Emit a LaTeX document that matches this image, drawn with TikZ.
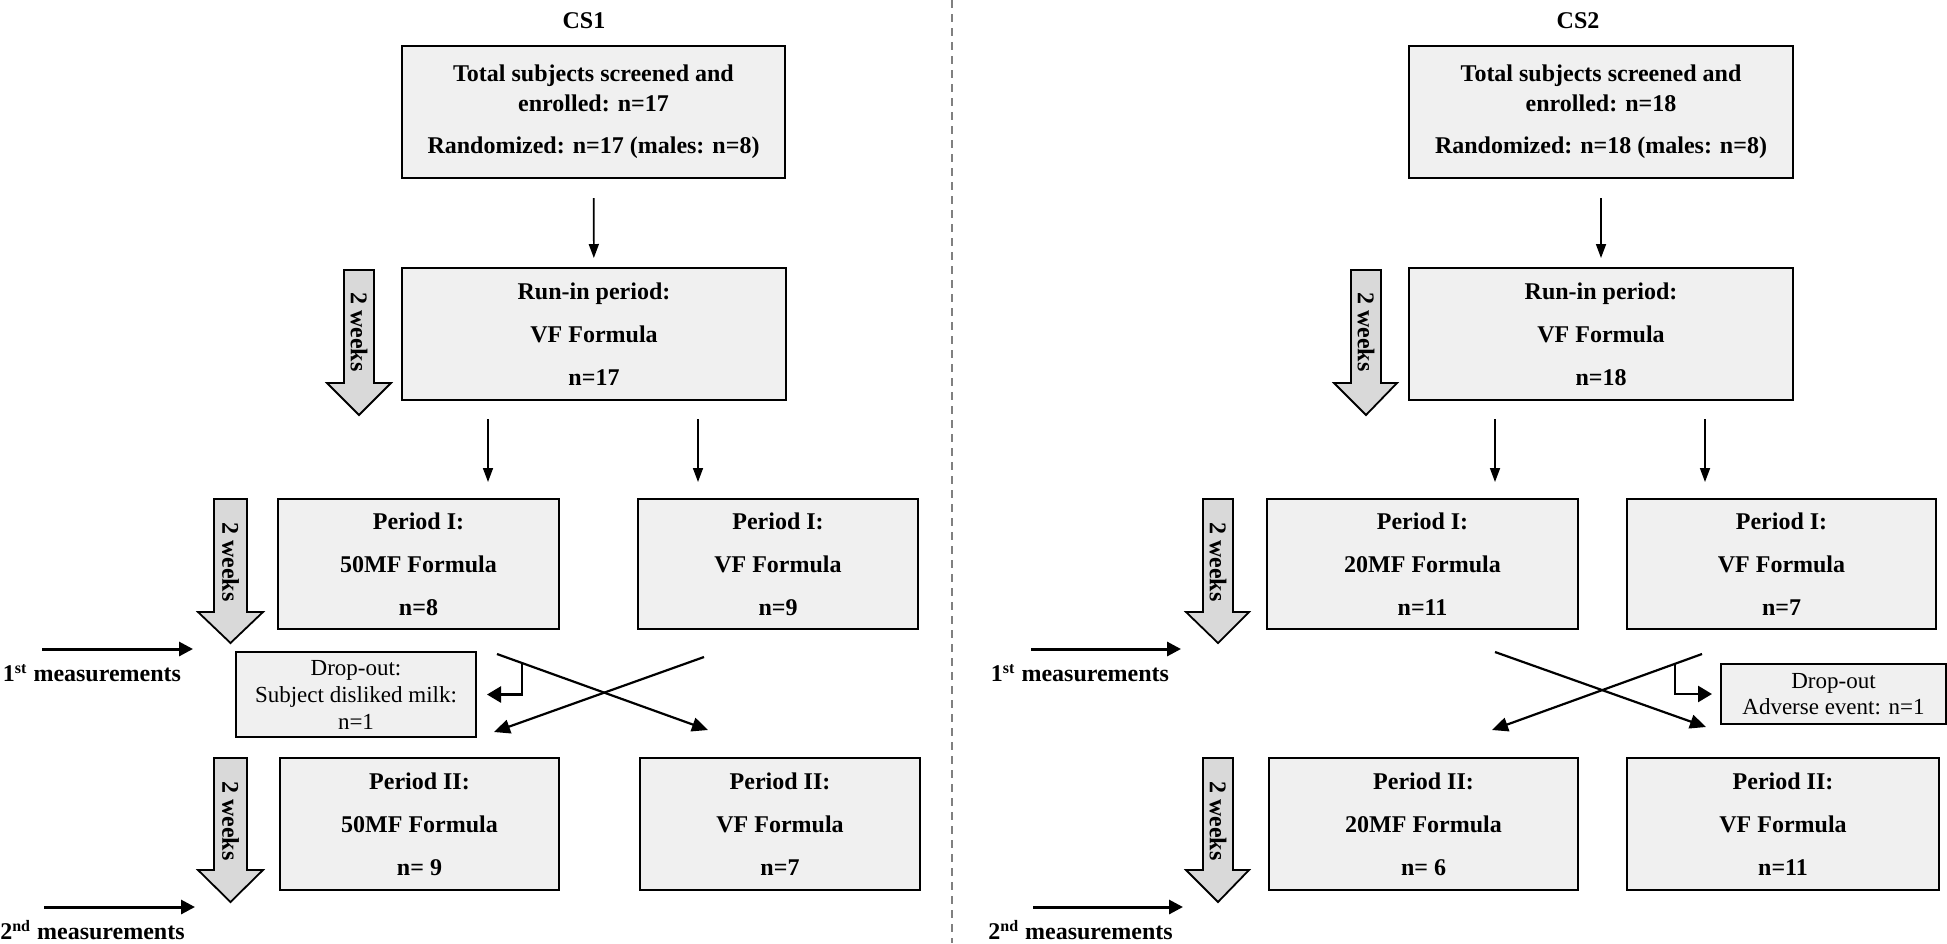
\documentclass[tikz,border=0pt]{standalone}
\usepackage{fontspec}
\setmainfont{Liberation Serif}
\usetikzlibrary{arrows.meta,calc}
\definecolor{boxgray}{HTML}{F0F0F0}
\definecolor{wkgray}{HTML}{D9D9D9}
\tikzset{
  box/.style={draw,line width=1pt,fill=boxgray,align=center,inner sep=0pt,
    font=\fontsize{12}{15}\selectfont\bfseries},
  dropbox/.style={draw,line width=1pt,fill=boxgray,align=center,inner sep=0pt,
    font=\fontsize{11.5}{13.5}\selectfont},
  wk/.style={draw,line width=0.9pt,fill=wkgray},
  wktext/.style={rotate=-90,inner sep=0pt,font=\fontsize{12}{14}\selectfont\bfseries},
  lbl/.style={inner sep=0pt,font=\fontsize{12}{14}\selectfont\bfseries},
  arr/.style={line width=0.8pt,-{Triangle[length=7pt,width=5pt]}},
  crossarr/.style={line width=1.1pt,-{Triangle[length=8pt,width=7pt]}},
  elbow/.style={line width=1.3pt,-{Triangle[length=7pt,width=8pt]}},
  measarr/.style={line width=1.5pt,-{Triangle[length=7pt,width=7pt]}}
}
\begin{document}
\begin{tikzpicture}[x=0.5pt,y=-0.5pt]
\useasboundingbox (0,0) rectangle (1947,943);
\draw[gray,line width=0.6pt,dash pattern=on 4pt off 3pt] (952,0) -- (952,943);

% CS1
\node[lbl] (t1) at (584,21) {CS1};
\node[box,minimum width=191.5pt,minimum height=66pt] (cs1top) at (593.5,112)
  {Total subjects screened and\\enrolled: n=17\\[6pt]Randomized: n=17 (males: n=8)};
\node[box,minimum width=192pt,minimum height=66pt] (cs1run) at (594,334)
  {Run-in period:\\[6.5pt]VF Formula\\[6.5pt]n=17};
\node[box,minimum width=140.5pt,minimum height=65pt] (cs1pIa) at (418.5,564)
  {Period I:\\[6.5pt]50MF Formula\\[6.5pt]n=8};
\node[box,minimum width=140pt,minimum height=65pt] (cs1pIb) at (778,564)
  {Period I:\\[6.5pt]VF Formula\\[6.5pt]n=9};
\node[dropbox,minimum width=120pt,minimum height=42.5pt] (cs1drop) at (356,694.5)
  {Drop-out:\\Subject disliked milk:\\n=1};
\node[box,minimum width=139.5pt,minimum height=66pt] (cs1pIIa) at (419.5,824)
  {Period II:\\[6.5pt]50MF Formula\\[6.5pt]n= 9};
\node[box,minimum width=140pt,minimum height=66pt] (cs1pIIb) at (780,824)
  {Period II:\\[6.5pt]VF Formula\\[6.5pt]n=7};

\draw[arr,shorten <=9.5pt,shorten >=4.5pt] (cs1top) -- (cs1run);
\draw[arr] ([xshift=-53pt,yshift=-9pt]cs1run.south) -- ++(0,63);
\draw[arr] ([xshift=52pt,yshift=-9pt]cs1run.south) -- ++(0,63);

\coordinate (c1a) at (497,654);
\coordinate (c1b) at (708,730);
\coordinate (c1c) at (704,657);
\coordinate (c1d) at (494,732);
\draw[crossarr] (c1a) -- (c1b);
\draw[crossarr] (c1c) -- (c1d);
\coordinate (e1) at ($(c1a)!0.118!(c1b)$);
\draw[elbow,shorten >=5pt] (e1) |- (cs1drop.east);

\draw[wk] (344,270) -- (374,270) -- (374,383) -- (391,383) -- (359,415) -- (327,383) -- (344,383) -- cycle;
\node[wktext] (w1) at (359,332) {2 weeks};
\draw[wk] (214,499) -- (247,499) -- (247,612) -- (263,612) -- (230.5,643) -- (198,612) -- (214,612) -- cycle;
\node[wktext] (w2) at (230.5,562) {2 weeks};
\draw[wk] (214,758) -- (247,758) -- (247,870) -- (263,870) -- (230.5,902) -- (198,870) -- (214,870) -- cycle;
\node[wktext] (w3) at (230.5,821) {2 weeks};

\coordinate (m1a) at (42,649);
\coordinate (m1b) at (193,649);
\draw[measarr] (m1a) -- (m1b);
\node[lbl] (m1) at (92,673) {1\textsuperscript{st} measurements};
\coordinate (m2a) at (44,907);
\coordinate (m2b) at (195,907);
\draw[measarr] (m2a) -- (m2b);
\node[lbl] (m2) at (92.5,930) {2\textsuperscript{nd} measurements};

% CS2
\node[lbl] (t2) at (1578,21) {CS2};
\node[box,minimum width=192pt,minimum height=66pt] (cs2top) at (1601,112)
  {Total subjects screened and\\enrolled: n=18\\[6pt]Randomized: n=18 (males: n=8)};
\node[box,minimum width=192pt,minimum height=66pt] (cs2run) at (1601,334)
  {Run-in period:\\[6.5pt]VF Formula\\[6.5pt]n=18};
\node[box,minimum width=155.5pt,minimum height=65pt] (cs2pIa) at (1422.5,564)
  {Period I:\\[6.5pt]20MF Formula\\[6.5pt]n=11};
\node[box,minimum width=154.5pt,minimum height=65pt] (cs2pIb) at (1781.5,564)
  {Period I:\\[6.5pt]VF Formula\\[6.5pt]n=7};
\node[dropbox,minimum width=112.5pt,minimum height=30pt,
  font=\fontsize{11.5}{13}\selectfont] (cs2drop) at (1833.5,694)
  {Drop-out\\Adverse event: n=1};
\node[box,minimum width=154.5pt,minimum height=66pt] (cs2pIIa) at (1423.5,824)
  {Period II:\\[6.5pt]20MF Formula\\[6.5pt]n= 6};
\node[box,minimum width=156pt,minimum height=66pt] (cs2pIIb) at (1783,824)
  {Period II:\\[6.5pt]VF Formula\\[6.5pt]n=11};

\draw[arr,shorten <=9.5pt,shorten >=4.5pt] (cs2top) -- (cs2run);
\draw[arr] ([xshift=-53pt,yshift=-9pt]cs2run.south) -- ++(0,63);
\draw[arr] ([xshift=52pt,yshift=-9pt]cs2run.south) -- ++(0,63);

\coordinate (c2a) at (1495,652);
\coordinate (c2b) at (1706,727);
\coordinate (c2c) at (1702,654);
\coordinate (c2d) at (1492,730);
\draw[crossarr] (c2a) -- (c2b);
\draw[crossarr] (c2c) -- (c2d);
\coordinate (e2) at ($(c2c)!0.129!(c2d)$);
\draw[elbow,shorten >=4pt] (e2) |- (cs2drop.west);

\draw[wk] (1351,270) -- (1381,270) -- (1381,383) -- (1397,383) -- (1366,415) -- (1334,383) -- (1351,383) -- cycle;
\node[wktext] (w4) at (1366,332) {2 weeks};
\draw[wk] (1203,499) -- (1233,499) -- (1233,612) -- (1249,612) -- (1218,643) -- (1186,612) -- (1203,612) -- cycle;
\node[wktext] (w5) at (1218,562) {2 weeks};
\draw[wk] (1203,758) -- (1233,758) -- (1233,870) -- (1249,870) -- (1218,902) -- (1186,870) -- (1203,870) -- cycle;
\node[wktext] (w6) at (1218,821) {2 weeks};

\coordinate (m3a) at (1031,649);
\coordinate (m3b) at (1181,649);
\draw[measarr] (m3a) -- (m3b);
\node[lbl] (m3) at (1080,673) {1\textsuperscript{st} measurements};
\coordinate (m4a) at (1033,907);
\coordinate (m4b) at (1183,907);
\draw[measarr] (m4a) -- (m4b);
\node[lbl] (m4) at (1080.5,930) {2\textsuperscript{nd} measurements};
\end{tikzpicture}
\end{document}
